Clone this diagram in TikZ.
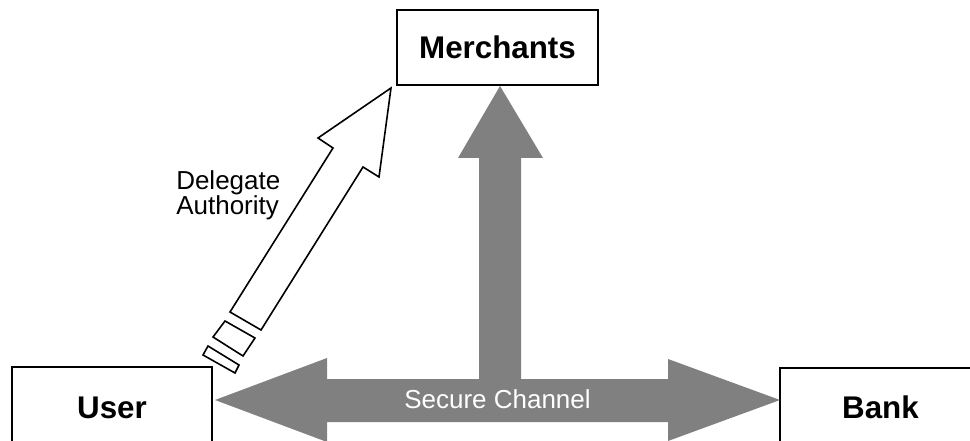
\documentclass[tikz,border=0pt]{standalone}
\usepackage{fontspec}
\setmainfont{Liberation Sans}
\definecolor{chanGray}{RGB}{128,128,128}
\def\px{0.75pt}
\tikzset{
	party/.style={draw, line width=1.4pt, fill=white, inner sep=0pt, font=\fontsize{23.5}{28}\selectfont\bfseries},
	hollow/.style={draw, line width=1.2pt, fill=white},
}
\begin{document}
\begin{tikzpicture}[x=0.75pt, y=-0.75pt, line join=miter]
	\useasboundingbox (0,0) rectangle (970,441);
	\clip (0,0) rectangle (970,441);
	% the three parties
	\node[party, minimum width=201*\px, minimum height=75*\px] (merchants) at (497.5,47.5) {Merchants};
	\node[party, minimum width=200*\px, minimum height=81*\px] (user) at (112,407.5) {User};
	\node[party, minimum width=201*\px, minimum height=79*\px] (bank) at (880.5,407.5) {Bank};
	\coordinate (userTip) at (215,400);
	\coordinate (bankTip) at (780,400);
	\coordinate (merchTip) at (500,86);
	\coordinate (dTip) at (391,88);
	% secure channel
	\fill[chanGray] (userTip) -- ++(112,-42) -- ++(0,21) -- (479,379) -- (479,158) -- (458,158) -- (merchTip)
		-- (543,158) -- (521,158) -- (521,379) -- (668,379) -- (668,359) -- (bankTip) -- (668,441)
		-- (668,422) -- (327,422) -- (327,442) -- cycle;
	\node[text=white, font=\fontsize{19.5}{23}\selectfont] (chanLbl) at (497.5,399) {Secure Channel};
	% delegation
	\draw[hollow] (230,312) -- (333,148) -- (318,138) -- (dTip) -- (379,177) -- (363,167) -- (261,330) -- cycle;
	\draw[hollow] (225,321) -- (255,338) -- (243,356) -- (213,337) -- cycle;
	\draw[hollow] (208,346) -- (239,365) -- (235,373) -- (203,355) -- cycle;
	\node[anchor=north west, inner sep=0pt, align=left, font=\fontsize{19.5}{18.75}\selectfont] (delegLbl) at (176,170) {Delegate\\Authority};
\end{tikzpicture}
\end{document}
